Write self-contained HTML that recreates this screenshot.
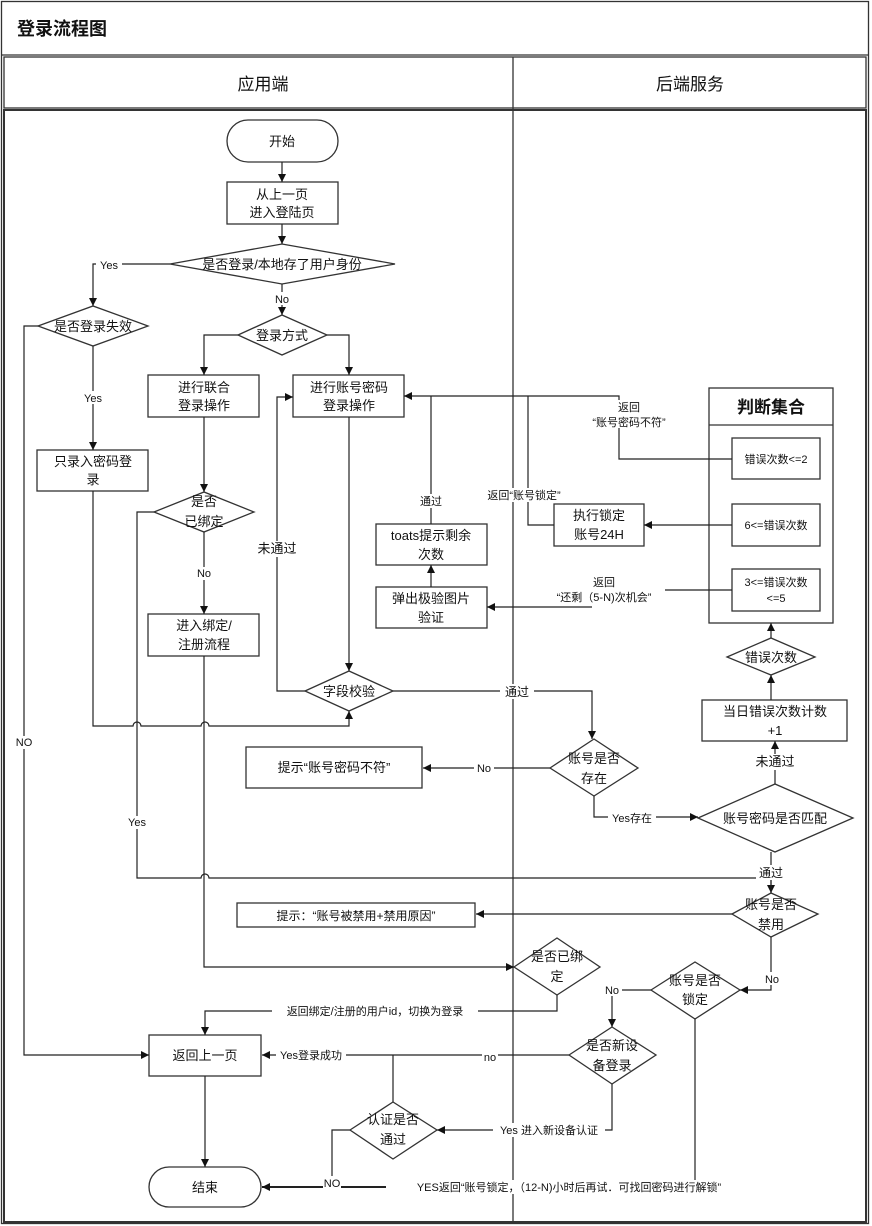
<!DOCTYPE html>
<html><head><meta charset="utf-8"><style>
html,body{margin:0;padding:0;background:#fff}
svg{display:block}
text{font-family:"Liberation Sans","Noto Sans CJK SC",sans-serif;fill:#111}
</style></head><body>
<svg width="872" height="1226" viewBox="0 0 872 1226" xmlns="http://www.w3.org/2000/svg">
<defs>
<marker id="a" viewBox="0 0 10 10" refX="10" refY="5" markerWidth="8" markerHeight="8" orient="auto" markerUnits="userSpaceOnUse"><path d="M0,0L10,5L0,10z" fill="#111"/></marker>
</defs>
<g fill="none" stroke="#333" stroke-width="1.3">
<rect x="1.5" y="1.5" width="867" height="1222"/>
<line x1="1" y1="55" x2="869" y2="55"/>
<rect x="4" y="57" width="862" height="51"/>
<rect x="4" y="110" width="862" height="1112" stroke-width="2"/>
<line x1="513" y1="57" x2="513" y2="1222"/>
</g>
<text x="17" y="35" font-size="18" font-weight="bold">登录流程图</text>
<text x="263" y="90" font-size="17" text-anchor="middle">应用端</text>
<text x="690" y="90" font-size="17" text-anchor="middle">后端服务</text>

<g fill="#fff" stroke="#333" stroke-width="1.3">
<rect x="227" y="120" width="111" height="42" rx="21"/>
<rect x="227" y="182" width="111" height="42"/>
<polygon points="170,264 282,244 395,264 282,284"/>
<polygon points="38,326 93,306 148,326 93,346"/>
<polygon points="238,335 282,315 327,335 282,355"/>
<rect x="148" y="375" width="111" height="42"/>
<rect x="293" y="375" width="111" height="42"/>
<rect x="37" y="450" width="111" height="41"/>
<polygon points="154,512 204,492 254,512 204,532"/>
<rect x="148" y="614" width="111" height="42"/>
<polygon points="305,691 349,671 393,691 349,711"/>
<rect x="376" y="524" width="111" height="41"/>
<rect x="376" y="587" width="111" height="41"/>
<rect x="554" y="504" width="90" height="42"/>
<rect x="709" y="388" width="124" height="235"/>
<rect x="732" y="438" width="88" height="41"/>
<rect x="732" y="504" width="88" height="42"/>
<rect x="732" y="569" width="88" height="42"/>
<polygon points="727,657 771,638 815,657 771,675"/>
<rect x="702" y="700" width="145" height="41"/>
<polygon points="550,768 594,739 638,768 594,796"/>
<rect x="246" y="747" width="176" height="41"/>
<polygon points="698,818 775,784 853,818 775,852"/>
<polygon points="732,914 771,893 818,914 771,937"/>
<rect x="237" y="903" width="238" height="24"/>
<polygon points="514,967 557,938 600,967 557,995"/>
<polygon points="651,990 695,962 740,990 695,1019"/>
<polygon points="569,1055 612,1027 656,1055 612,1084"/>
<polygon points="350,1130 393,1102 437,1130 393,1159"/>
<rect x="149" y="1035" width="112" height="41"/>
<rect x="149" y="1167" width="112" height="40" rx="20"/>
</g>
<line x1="709" y1="425" x2="833" y2="425" stroke="#333" stroke-width="1.3"/>

<g fill="none" stroke="#222" stroke-width="1.2">
<path d="M282,162V182" marker-end="url(#a)"/>
<path d="M282,224V244" marker-end="url(#a)"/>
<path d="M170,264H93V306" marker-end="url(#a)"/>
<path d="M38,326H24V1055H149" marker-end="url(#a)"/>
<path d="M93,346V450" marker-end="url(#a)"/>
<path d="M282,284V315" marker-end="url(#a)"/>
<path d="M238,335H204V375" marker-end="url(#a)"/>
<path d="M327,335H349V375" marker-end="url(#a)"/>
<path d="M204,417V492" marker-end="url(#a)"/>
<path d="M204,532V614" marker-end="url(#a)"/>
<path d="M349,417V671" marker-end="url(#a)"/>
<path d="M305,691H277V397H293" marker-end="url(#a)"/>
<path d="M93,491V726H133a4,4 0 0 1 8,0H201a4,4 0 0 1 8,0H349V711" marker-end="url(#a)"/>
<path d="M154,512H137V878H201a4,4 0 0 1 8,0H771V893" marker-end="url(#a)"/>
<path d="M204,656V967H514" marker-end="url(#a)"/>
<path d="M393,691H592V739" marker-end="url(#a)"/>
<path d="M550,768H423" marker-end="url(#a)"/>
<path d="M594,796V817H698" marker-end="url(#a)"/>
<path d="M775,784V741" marker-end="url(#a)"/>
<path d="M771,700V675" marker-end="url(#a)"/>
<path d="M771,638V623" marker-end="url(#a)"/>
<path d="M732,459H619V396H404" marker-end="url(#a)"/>
<path d="M732,525H644" marker-end="url(#a)"/>
<path d="M554,525H528V396"/>
<path d="M732,590H665"/>
<path d="M592,607H487" marker-end="url(#a)"/>
<path d="M431,587V565" marker-end="url(#a)"/>
<path d="M431,524V396"/>
<path d="M771,852V893"/>
<path d="M732,914H476" marker-end="url(#a)"/>
<path d="M771,937V990H740" marker-end="url(#a)"/>
<path d="M557,995V1011H205V1035" marker-end="url(#a)"/>
<path d="M651,990H612V1027" marker-end="url(#a)"/>
<path d="M569,1055H262" marker-end="url(#a)"/>
<path d="M612,1084V1130H437" marker-end="url(#a)"/>
<path d="M393,1102V1055"/>
<path d="M350,1130H332V1187"/>
<path d="M695,1019V1180"/>
<path d="M388,1187H262" marker-end="url(#a)" stroke-width="2"/>
<path d="M205,1076V1167" marker-end="url(#a)"/>
</g>

<g font-size="13" text-anchor="middle">
<text x="282" y="146">开始</text>
<text x="282" y="199">从上一页</text>
<text x="282" y="217">进入登陆页</text>
<text x="282" y="269">是否登录/本地存了用户身份</text>
<text x="93" y="331">是否登录失效</text>
<text x="282" y="340">登录方式</text>
<text x="204" y="392">进行联合</text>
<text x="204" y="410">登录操作</text>
<text x="349" y="392">进行账号密码</text>
<text x="349" y="410">登录操作</text>
<text x="93" y="466">只录入密码登</text>
<text x="93" y="484">录</text>
<text x="204" y="506">是否</text>
<text x="204" y="526">已绑定</text>
<text x="204" y="630">进入绑定/</text>
<text x="204" y="649">注册流程</text>
<text x="349" y="696">字段校验</text>
<text x="431" y="540">toats提示剩余</text>
<text x="431" y="559">次数</text>
<text x="431" y="603">弹出极验图片</text>
<text x="431" y="622">验证</text>
<text x="599" y="520">执行锁定</text>
<text x="599" y="539">账号24H</text>
<text x="771" y="413" font-size="17" font-weight="bold">判断集合</text>
<text x="776" y="463" font-size="11">错误次数&lt;=2</text>
<text x="776" y="529" font-size="11">6&lt;=错误次数</text>
<text x="776" y="586" font-size="11">3&lt;=错误次数</text>
<text x="776" y="602" font-size="11">&lt;=5</text>
<text x="771" y="662">错误次数</text>
<text x="775" y="716">当日错误次数计数</text>
<text x="775" y="735">+1</text>
<text x="594" y="763">账号是否</text>
<text x="594" y="783">存在</text>
<text x="334" y="772">提示“账号密码不符”</text>
<text x="775" y="823">账号密码是否匹配</text>
<text x="771" y="909">账号是否</text>
<text x="771" y="929">禁用</text>
<text x="356" y="920" font-size="12">提示：“账号被禁用+禁用原因”</text>
<text x="557" y="961">是否已绑</text>
<text x="557" y="981">定</text>
<text x="695" y="985">账号是否</text>
<text x="695" y="1004">锁定</text>
<text x="612" y="1050">是否新设</text>
<text x="612" y="1070">备登录</text>
<text x="393" y="1124">认证是否</text>
<text x="393" y="1144">通过</text>
<text x="205" y="1060">返回上一页</text>
<text x="205" y="1192">结束</text>
</g>

<g font-size="11" text-anchor="middle">
<rect x="96" y="258" width="26" height="13" fill="#fff"/><text x="109" y="269">Yes</text>
<rect x="270" y="292" width="24" height="13" fill="#fff"/><text x="282" y="303">No</text>
<rect x="80" y="391" width="26" height="13" fill="#fff"/><text x="93" y="402">Yes</text>
<rect x="12" y="736" width="24" height="13" fill="#fff"/><text x="24" y="746">NO</text>
<rect x="192" y="567" width="24" height="13" fill="#fff"/><text x="204" y="577">No</text>
<rect x="125" y="816" width="24" height="13" fill="#fff"/><text x="137" y="826">Yes</text>
<rect x="252" y="541" width="50" height="16" fill="#fff"/><text x="277" y="553" font-size="13">未通过</text>
<rect x="417" y="494" width="28" height="14" fill="#fff"/><text x="431" y="505">通过</text>
<rect x="470" y="488" width="108" height="14" fill="#fff"/><text x="524" y="499">返回“账号锁定”</text>
<rect x="585" y="400" width="90" height="28" fill="#fff"/><text x="629" y="411">返回</text><text x="629" y="426">“账号密码不符”</text>
<rect x="545" y="576" width="120" height="28" fill="#fff"/><text x="604" y="586">返回</text><text x="604" y="601">“还剩（5-N)次机会”</text>
<rect x="500" y="684" width="34" height="15" fill="#fff"/><text x="517" y="696" font-size="12">通过</text>
<rect x="474" y="762" width="20" height="13" fill="#fff"/><text x="484" y="772">No</text>
<rect x="608" y="811" width="48" height="13" fill="#fff"/><text x="632" y="822">Yes存在</text>
<rect x="750" y="754" width="50" height="16" fill="#fff"/><text x="775" y="766" font-size="13">未通过</text>
<rect x="756" y="865" width="30" height="15" fill="#fff"/><text x="771" y="877" font-size="12">通过</text>
<rect x="762" y="972" width="20" height="13" fill="#fff"/><text x="772" y="983">No</text>
<rect x="272" y="1004" width="206" height="14" fill="#fff"/><text x="375" y="1015">返回绑定/注册的用户id，切换为登录</text>
<rect x="602" y="983" width="20" height="13" fill="#fff"/><text x="612" y="994">No</text>
<rect x="276" y="1049" width="70" height="13" fill="#fff"/><text x="311" y="1059">Yes登录成功</text>
<rect x="482" y="1051" width="16" height="12" fill="#fff"/><text x="490" y="1061">no</text>
<rect x="493" y="1123" width="112" height="14" fill="#fff"/><text x="549" y="1134">Yes 进入新设备认证</text>
<rect x="323" y="1176" width="18" height="13" fill="#fff"/><text x="332" y="1187">NO</text>
<rect x="386" y="1180" width="368" height="14" fill="#fff"/><text x="569" y="1191">YES返回“账号锁定，（12-N)小时后再试．可找回密码进行解锁”</text>
</g>
</svg>
</body></html>
